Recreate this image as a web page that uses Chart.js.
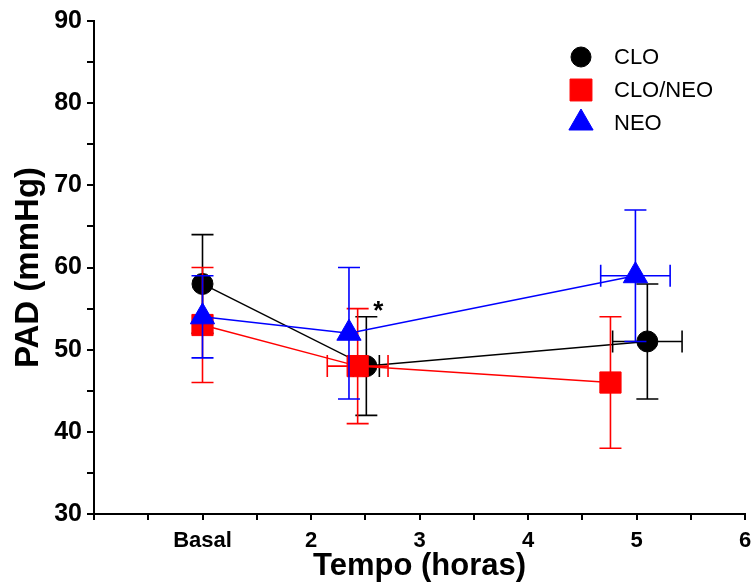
<!DOCTYPE html>
<html>
<head>
<meta charset="utf-8">
<title>PAD (mmHg)</title>
<script src="https://cdn.jsdelivr.net/npm/chart.js"></script>
<style>
  html, body { margin: 0; padding: 0; background: #fff; }
</style>
</head>
<body>
<canvas id="padChart" width="753" height="587"></canvas>
<script>
  // series names (legend order)
  const seriesNames = ['CLO', 'CLO/NEO', 'NEO'];

  // CLO
  const cloX = [1, 2.51, 5.10];
  const cloY = [58, 48, 51];
  const cloYErr = [6, 6, 7];
  const cloXErr = [0, 0.12, 0.32];

  // CLO/NEO
  const cloNeoX = [1, 2.43, 4.76];
  const cloNeoY = [53, 48, 46];
  const cloNeoYErr = [7, 7, 8];
  const cloNeoXErr = [0, 0.28, 0];

  // NEO
  const neoX = [1, 2.35, 4.99];
  const neoY = [54, 52, 59];
  const neoYErr = [5, 8, 8];
  const neoXErr = [0, 0, 0.32];

  // x tick labels (first time point is called "Basal")
  const xTickValues = [1, 2, 3, 4, 5, 6];
  const xTickLabels = ['Basal', '2', '3', '4', '5', '6'];

  // significance mark next to CLO at 2 h
  const marks = [{ x: 2.62, y: 55.1, text: '*' }];

  const FONT = "'Liberation Sans', Arial, sans-serif";

  function toPoints(xs, ys) {
    return xs.map((x, i) => ({ x: x, y: ys[i] }));
  }

  // draws the x / y error bars before each dataset's line and markers
  const errorBars = {
    id: 'errorBars',
    beforeDatasetDraw(chart, args) {
      const ds = chart.data.datasets[args.index];
      const sx = chart.scales.x, sy = chart.scales.y;
      const ctx = chart.ctx;
      const cap = 11;
      ctx.save();
      ctx.strokeStyle = ds.borderColor;
      ctx.lineWidth = 1.6;
      ds.data.forEach((p, i) => {
        const px = sx.getPixelForValue(p.x);
        const py = sy.getPixelForValue(p.y);
        const ey = ds.yErr[i], ex = ds.xErr[i];
        ctx.beginPath();
        if (ey) {
          const t = sy.getPixelForValue(p.y + ey);
          const b = sy.getPixelForValue(p.y - ey);
          ctx.moveTo(px, t); ctx.lineTo(px, b);
          ctx.moveTo(px - cap, t); ctx.lineTo(px + cap, t);
          ctx.moveTo(px - cap, b); ctx.lineTo(px + cap, b);
        }
        if (ex) {
          const l = sx.getPixelForValue(p.x - ex);
          const r = sx.getPixelForValue(p.x + ex);
          ctx.moveTo(l, py); ctx.lineTo(r, py);
          ctx.moveTo(l, py - cap); ctx.lineTo(l, py + cap);
          ctx.moveTo(r, py - cap); ctx.lineTo(r, py + cap);
        }
        ctx.stroke();
      });
      ctx.restore();
    }
  };

  // legend box in the upper right corner + the asterisk
  const extras = {
    id: 'extras',
    afterDraw(chart) {
      const ctx = chart.ctx;
      const sx = chart.scales.x, sy = chart.scales.y;
      ctx.save();
      chart.data.datasets.forEach((ds, i) => {
        const y = 57 + i * 33;
        ctx.fillStyle = ds.borderColor;
        ctx.strokeStyle = ds.borderColor;
        ctx.lineWidth = 1;
        Chart.helpers.drawPoint(ctx, {
          pointStyle: ds.pointStyle,
          radius: ds.legendRadius,
          rotation: 0,
          borderWidth: 1
        }, 581, y);
        ctx.fillStyle = '#000';
        ctx.font = '22px ' + FONT;
        ctx.textAlign = 'left';
        ctx.textBaseline = 'middle';
        ctx.fillText(ds.label, 614, y + 1);
      });
      ctx.font = 'bold 26px ' + FONT;
      ctx.textAlign = 'center';
      ctx.textBaseline = 'middle';
      ctx.fillStyle = '#000';
      marks.forEach(m => {
        ctx.fillText(m.text, sx.getPixelForValue(m.x), sy.getPixelForValue(m.y) + 4);
      });
      ctx.restore();
    }
  };

  function makeSet(name, xs, ys, xErr, yErr, color, style, radius, legendRadius, order) {
    return {
      label: name,
      data: toPoints(xs, ys),
      xErr: xErr,
      yErr: yErr,
      showLine: true,
      borderColor: color,
      backgroundColor: color,
      borderWidth: 1.5,
      pointStyle: style,
      pointRadius: radius,
      pointHoverRadius: radius,
      pointBackgroundColor: color,
      pointBorderColor: color,
      pointBorderWidth: 1,
      legendRadius: legendRadius,
      order: order
    };
  }

  new Chart(document.getElementById('padChart'), {
    type: 'scatter',
    data: {
      datasets: [
        makeSet(seriesNames[0], cloX, cloY, cloXErr, cloYErr, '#000000', 'circle', 10.5, 10, 3),
        makeSet(seriesNames[1], cloNeoX, cloNeoY, cloNeoXErr, cloNeoYErr, '#ff0000', 'rect', 15, 15.5, 2),
        makeSet(seriesNames[2], neoX, neoY, neoXErr, neoYErr, '#0000ff', 'triangle', 14, 14, 1)
      ]
    },
    options: {
      responsive: false,
      animation: false,
      events: [],
      layout: { autoPadding: false, padding: { top: 21, right: 8, bottom: 0, left: 0 } },
      plugins: {
        legend: { display: false },
        tooltip: { enabled: false }
      },
      scales: {
        x: {
          type: 'linear',
          min: 0,
          max: 6,
          border: { display: true, color: '#000', width: 2 },
          grid: { drawOnChartArea: false, color: '#000', lineWidth: 2, tickLength: 6 },
          ticks: {
            stepSize: 0.5,
            autoSkip: false,
            maxRotation: 0,
            padding: 8,
            color: '#000',
            font: { family: FONT, size: 22, weight: 'bold' },
            callback: v => {
              const k = xTickValues.indexOf(v);
              return k >= 0 ? xTickLabels[k] : '';
            }
          },
          title: {
            display: true,
            text: 'Tempo (horas)',
            color: '#000',
            font: { family: FONT, size: 31, weight: 'bold' },
            padding: { top: 0, bottom: 2 }
          },
          afterFit: s => {
            s.height = 73;
            s.paddingLeft = 0;
            s.paddingRight = 0;
          }
        },
        y: {
          type: 'linear',
          min: 30,
          max: 90,
          border: { display: true, color: '#000', width: 2 },
          grid: { drawOnChartArea: false, color: '#000', lineWidth: 2, tickLength: 7 },
          ticks: {
            stepSize: 5,
            autoSkip: false,
            padding: 5,
            color: '#000',
            font: { family: FONT, size: 25, weight: 'bold' },
            callback: v => (v % 10 === 0 ? String(v) : '')
          },
          title: {
            display: true,
            text: 'PAD (mmHg)',
            color: '#000',
            font: { family: FONT, size: 33, weight: 'bold' },
            padding: { top: 9, bottom: 0 }
          },
          afterFit: s => {
            s.width = 94;
            s.paddingTop = 0;
            s.paddingBottom = 0;
          }
        }
      }
    },
    plugins: [errorBars, extras]
  });
</script>
</body>
</html>
